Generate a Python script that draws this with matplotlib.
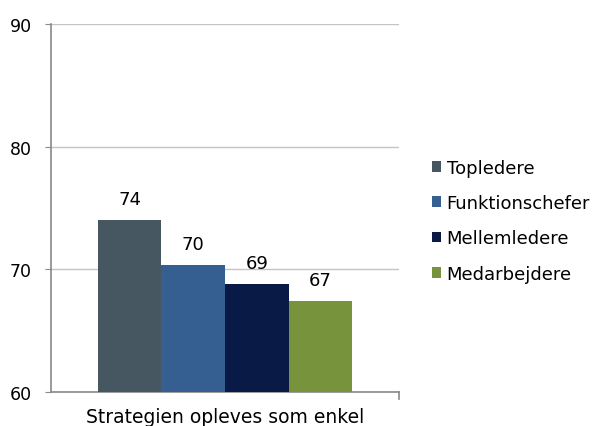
import matplotlib.pyplot as plt
import numpy as np

# DATA
category = "Strategien opleves som enkel"
groups = ["Topledere", "Funktionschefer", "Mellemledere", "Medarbejdere"]
values = [74.0, 70.35, 68.8, 67.4]
labels = ["74", "70", "69", "67"]
colors = ["#465761", "#355f90", "#0a1a47", "#77933c"]

plt.rcParams["font.family"] = ["DejaVu Sans"]

fig = plt.figure(figsize=(5.95, 4.27), dpi=100)
ax = fig.add_axes([0.0857, 0.0796, 0.5849, 0.862])

width = 0.1825
offsets = (np.arange(len(groups)) - 1.5) * width

for i, name in enumerate(groups):
    ax.bar(offsets[i], values[i], width=width, color=colors[i], label=name, zorder=3)
    ax.annotate(labels[i], (offsets[i], values[i]), xytext=(0, 8.5),
                textcoords="offset points", ha="center", va="bottom",
                fontsize=13, color="black")

ax.set_ylim(60, 90)
ax.set_xlim(-0.5, 0.5)
ax.set_yticks([60, 70, 80, 90])
ax.set_xticks([0])
ax.set_xticklabels([category], fontsize=13.5)
ax.tick_params(axis="y", labelsize=12.5, length=4.3, color="#898989", pad=9.4)
ax.tick_params(axis="x", length=0, pad=11)
ax.yaxis.grid(True, color="#c4c4c4", linewidth=1, zorder=0)

for s in ["top", "right"]:
    ax.spines[s].set_visible(False)
for s in ["left", "bottom"]:
    ax.spines[s].set_color("#898989")
    ax.spines[s].set_linewidth(1.2)

# small tick at right end of x axis
ax.plot([0.5, 0.5], [60, 59.4], color="#898989", lw=1.2, clip_on=False)

ax.legend(loc="center left", bbox_to_anchor=(1.095, 0.465), frameon=False,
          fontsize=13, handlelength=0.5, handleheight=0.55, handletextpad=0.3,
          labelspacing=0.95, borderpad=0, borderaxespad=0)

fig.savefig("out.png", dpi=100)
